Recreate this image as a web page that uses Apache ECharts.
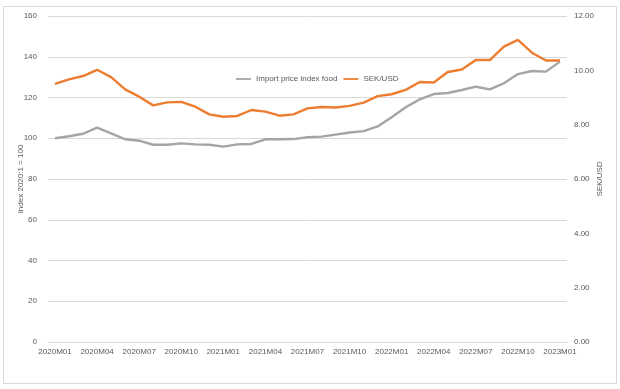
<!DOCTYPE html>
<html>
<head>
<meta charset="utf-8">
<script src="https://cdn.jsdelivr.net/npm/echarts@6/dist/echarts.min.js"></script>
<style>html,body{margin:0;padding:0;background:#fff}#c{width:620px;height:389px}</style>
</head>
<body>
<div id="c"></div>
<script>
var categories = ["2020M01","2020M02","2020M03","2020M04","2020M05","2020M06","2020M07","2020M08","2020M09","2020M10","2020M11","2020M12",
  "2021M01","2021M02","2021M03","2021M04","2021M05","2021M06","2021M07","2021M08","2021M09","2021M10","2021M11","2021M12",
  "2022M01","2022M02","2022M03","2022M04","2022M05","2022M06","2022M07","2022M08","2022M09","2022M10","2022M11","2022M12","2023M01"];
var importPriceIndexFood = [100.0, 101.0, 102.2, 105.2, 102.4, 99.5, 98.8, 96.8, 96.8, 97.5, 97.0, 96.8,
  95.9, 97.0, 97.2, 99.5, 99.5, 99.6, 100.5, 100.8, 101.8, 102.8, 103.5, 105.8,
  110.3, 115.2, 119.1, 121.7, 122.2, 123.7, 125.3, 124.0, 127.0, 131.5, 133.0, 132.7, 137.6];
var sekUsd = [9.50, 9.67, 9.79, 10.02, 9.75, 9.30, 9.03, 8.71, 8.82, 8.84, 8.66, 8.38,
  8.29, 8.32, 8.54, 8.48, 8.33, 8.38, 8.60, 8.65, 8.63, 8.69, 8.81, 9.05,
  9.12, 9.28, 9.57, 9.55, 9.94, 10.03, 10.38, 10.38, 10.87, 11.12, 10.65, 10.36, 10.36];
var leftTicks = {min: 0, max: 160, interval: 20};
var rightTicks = {min: 0, max: 12, interval: 2};

var FONT = "'Liberation Sans', Arial, sans-serif";
var FS = 8;
var TXT = '#595959';
var chart = echarts.init(document.getElementById('c'), null, {renderer: 'canvas'});
chart.setOption({
  animation: false,
  backgroundColor: '#fff',
  textStyle: {fontFamily: FONT},
  graphic: [{type: 'rect', shape: {x: 3.5, y: 6.5, width: 613, height: 377}, style: {fill: 'none', stroke: '#d9d9d9', lineWidth: 1}, silent: true}],
  grid: {left: 48, right: 53, top: 16, bottom: 47, containLabel: false},
  legend: {
    left: 231, top: 70, itemGap: 6, itemWidth: 15, itemHeight: 10,
    textStyle: {color: TXT, fontSize: FS, fontFamily: FONT},
    data: [{name: 'Import price index food', icon: 'path://M0,4 L20,4 L20,6.4 L0,6.4 Z'}, {name: 'SEK/USD', icon: 'path://M0,4 L20,4 L20,6.4 L0,6.4 Z'}]
  },
  xAxis: {
    type: 'category', data: categories, boundaryGap: true,
    axisLine: {lineStyle: {color: '#d9d9d9'}}, axisTick: {show: false},
    axisLabel: {interval: 2, color: TXT, fontSize: FS, fontFamily: FONT, margin: 6}
  },
  yAxis: [{
    type: 'value', min: leftTicks.min, max: leftTicks.max, interval: leftTicks.interval,
    name: 'Index 2020:1 = 100', nameLocation: 'middle', nameGap: 23, nameRotate: 90, nameMoveOverlap: false,
    nameTextStyle: {color: TXT, fontSize: FS, fontFamily: FONT},
    axisLine: {show: false}, axisTick: {show: false},
    axisLabel: {color: TXT, fontSize: FS, fontFamily: FONT, margin: 11},
    splitLine: {lineStyle: {color: '#d9d9d9', width: 1}}
  }, {
    type: 'value', position: 'right', min: rightTicks.min, max: rightTicks.max, interval: rightTicks.interval,
    name: 'SEK/USD', nameLocation: 'middle', nameGap: 29, nameRotate: 90, nameMoveOverlap: false,
    nameTextStyle: {color: TXT, fontSize: FS, fontFamily: FONT},
    axisLine: {show: false}, axisTick: {show: false},
    axisLabel: {color: TXT, fontSize: FS, fontFamily: FONT, margin: 7, formatter: function (v) { return v.toFixed(2); }},
    splitLine: {show: false}
  }],
  series: [{
    name: 'Import price index food', type: 'line', yAxisIndex: 0, data: importPriceIndexFood,
    showSymbol: false, symbol: 'none', lineStyle: {color: '#a5a5a5', width: 2.4}, itemStyle: {color: '#a5a5a5'}
  }, {
    name: 'SEK/USD', type: 'line', yAxisIndex: 1, data: sekUsd,
    showSymbol: false, symbol: 'none', lineStyle: {color: '#ed7d31', width: 2.4}, itemStyle: {color: '#ed7d31'}
  }]
});
</script>
</body>
</html>
